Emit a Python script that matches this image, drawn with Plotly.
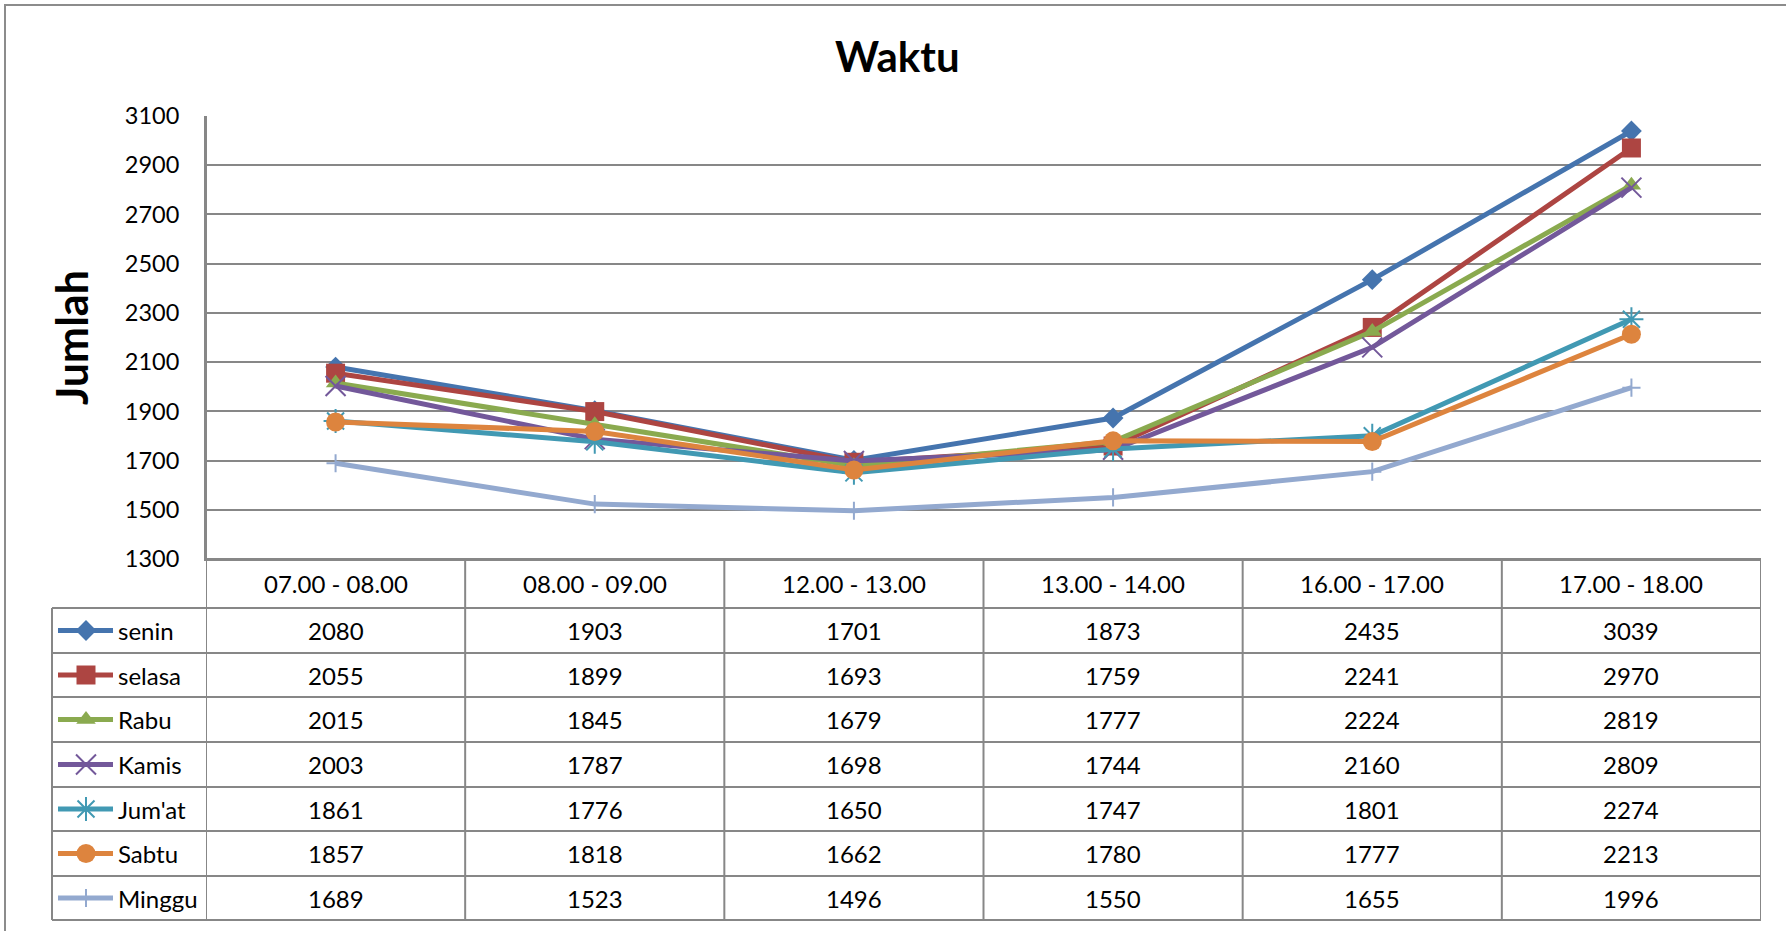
import plotly.graph_objects as go

W, H = 1786, 931

categories = ["07.00 - 08.00", "08.00 - 09.00", "12.00 - 13.00",
              "13.00 - 14.00", "16.00 - 17.00", "17.00 - 18.00"]
series_names = ["senin", "selasa", "Rabu", "Kamis", "Jum'at", "Sabtu", "Minggu"]
senin = [2080, 1903, 1701, 1873, 2435, 3039]
selasa = [2055, 1899, 1693, 1759, 2241, 2970]
rabu = [2015, 1845, 1679, 1777, 2224, 2819]
kamis = [2003, 1787, 1698, 1744, 2160, 2809]
jumat = [1861, 1776, 1650, 1747, 1801, 2274]
sabtu = [1857, 1818, 1662, 1780, 1777, 2213]
minggu = [1689, 1523, 1496, 1550, 1655, 1996]
series_values = [senin, selasa, rabu, kamis, jumat, sabtu, minggu]
y_ticks = [1300, 1500, 1700, 1900, 2100, 2300, 2500, 2700, 2900, 3100]

colors = ["#4574AE", "#AD4542", "#8AAA4F", "#73589A", "#4199B3", "#DD843E", "#93A9CF"]
symbols = ["diamond", "square", "triangle-up", "x-thin", "asterisk", "circle", "cross-thin"]
msizes = [16, 19, 17, 20, 20, 19, 13]

FONT = "Lato, Carlito, 'Open Sans', sans-serif"
GRID = "#878787"

# layout geometry (pixels)
PL, PR, PT, PB = 206, 1761, 116, 559
LEG_L = 52
ROW_Y = [559, 608, 653, 697, 742, 787, 831, 876, 920]

def px(x):
    return x / W

def py(y):
    return 1 - y / H

fig = go.Figure()

for name, vals, c, s, ms in zip(series_names, series_values, colors, symbols, msizes):
    thin = s in ("x-thin", "cross-thin", "asterisk")
    fig.add_trace(go.Scatter(
        x=categories, y=vals, name=name, mode="lines+markers",
        line=dict(color=c, width=5),
        marker=dict(symbol=s, size=ms, color=c,
                    line=dict(color=c, width=2 if thin else 0)),
        xaxis="x", yaxis="y", showlegend=False, cliponaxis=False,
    ))

# legend icons inside the data table (pixel overlay axes)
for i, (name, c, s, ms) in enumerate(zip(series_names, colors, symbols, msizes)):
    yc = (ROW_Y[i + 1] + ROW_Y[i + 2]) / 2
    thin = s in ("x-thin", "cross-thin", "asterisk")
    fig.add_trace(go.Scatter(
        x=[58, 86, 113], y=[yc, yc, yc], mode="lines",
        line=dict(color=c, width=5), xaxis="x2", yaxis="y2",
        showlegend=False, hoverinfo="skip",
    ))
    fig.add_trace(go.Scatter(
        x=[86], y=[yc], mode="markers",
        marker=dict(symbol=s, size=ms, color=c,
                    line=dict(color=c, width=2 if thin else 0)),
        xaxis="x2", yaxis="y2", showlegend=False, hoverinfo="skip",
    ))

shapes = []
# outer chart border
shapes.append(dict(type="rect", xref="paper", yref="paper",
                   x0=px(5), x1=px(W + 20), y0=py(H + 20), y1=py(5),
                   line=dict(color="#8c8c8c", width=2), layer="below"))
# table horizontal lines
for k, yy in enumerate(ROW_Y):
    x0 = PL if k == 0 else LEG_L
    shapes.append(dict(type="line", xref="paper", yref="paper",
                       x0=px(x0), x1=px(PR), y0=py(yy), y1=py(yy),
                       line=dict(color=GRID, width=2)))
# table vertical lines
shapes.append(dict(type="line", xref="paper", yref="paper",
                   x0=px(LEG_L), x1=px(LEG_L), y0=py(ROW_Y[1]), y1=py(ROW_Y[-1]),
                   line=dict(color=GRID, width=2)))
for k in range(len(categories) + 1):
    shapes.append(dict(type="line", xref="x", yref="paper",
                       x0=k - 0.5, x1=k - 0.5,
                       y0=py(ROW_Y[0] if k > 0 else PT), y1=py(ROW_Y[-1]),
                       line=dict(color=GRID, width=2)))

annotations = []
annotations.append(dict(text="<b>Waktu</b>", x=px(898), y=py(56), xref="paper", yref="paper",
                        showarrow=False, xanchor="center", yanchor="middle",
                        font=dict(family=FONT, size=42, color="black")))
annotations.append(dict(text="<b>Jumlah</b>", x=px(71), y=py(338), xref="paper", yref="paper",
                        showarrow=False, xanchor="center", yanchor="middle", textangle=-90,
                        font=dict(family=FONT, size=43, color="black")))
# header row
for j, cat in enumerate(categories):
    annotations.append(dict(text=cat, x=j, y=py((ROW_Y[0] + ROW_Y[1]) / 2),
                            xref="x", yref="paper", showarrow=False,
                            xanchor="center", yanchor="middle",
                            font=dict(family=FONT, size=24, color="black")))
# data rows
for i, (name, vals) in enumerate(zip(series_names, series_values)):
    yc = py((ROW_Y[i + 1] + ROW_Y[i + 2]) / 2)
    annotations.append(dict(text=name, x=px(116), y=yc, xref="paper", yref="paper",
                            showarrow=False, xanchor="left", yanchor="middle",
                            font=dict(family=FONT, size=24, color="black")))
    for j, v in enumerate(vals):
        annotations.append(dict(text=str(v), x=j, y=yc, xref="x", yref="paper",
                                showarrow=False, xanchor="center", yanchor="middle",
                                font=dict(family=FONT, size=24, color="black")))

fig.update_layout(
    width=W, height=H,
    margin=dict(l=0, r=0, t=0, b=0, pad=0, autoexpand=False),
    paper_bgcolor="white", plot_bgcolor="rgba(0,0,0,0)",
    xaxis=dict(domain=[px(PL), px(PR)], type="category", categoryarray=categories,
               range=[-0.5, len(categories) - 0.5], showticklabels=False,
               showgrid=False, zeroline=False, showline=True, linecolor=GRID,
               linewidth=2, ticks="", anchor="y", fixedrange=True, automargin=False),
    yaxis=dict(domain=[py(PB), py(PT)], range=[1300, 3100], tickvals=y_ticks,
               showgrid=True, gridcolor=GRID, gridwidth=2, zeroline=False,
               showline=True, linecolor=GRID, linewidth=2, ticks="",
               ticklabelstandoff=20,
               tickfont=dict(family=FONT, size=23.5, color="black"),
               anchor="x", fixedrange=True, automargin=False),
    xaxis2=dict(domain=[0, 1], range=[0, W], visible=False, anchor="y2",
                fixedrange=True, automargin=False),
    yaxis2=dict(domain=[0, 1], range=[H, 0], visible=False, anchor="x2",
                fixedrange=True, automargin=False),
    shapes=shapes,
    annotations=annotations,
    showlegend=False,
)

post_js = (
    "document.documentElement.style.margin='0';"
    "document.documentElement.style.overflow='hidden';"
    "document.body.style.margin='0';"
    "document.body.style.overflow='hidden';"
    "var gd=document.getElementById('{plot_id}');"
    "gd.style.position='absolute';gd.style.left='0px';gd.style.top='0px';"
)

fig.write_html("out.html", post_script=post_js, config={"displayModeBar": False})
